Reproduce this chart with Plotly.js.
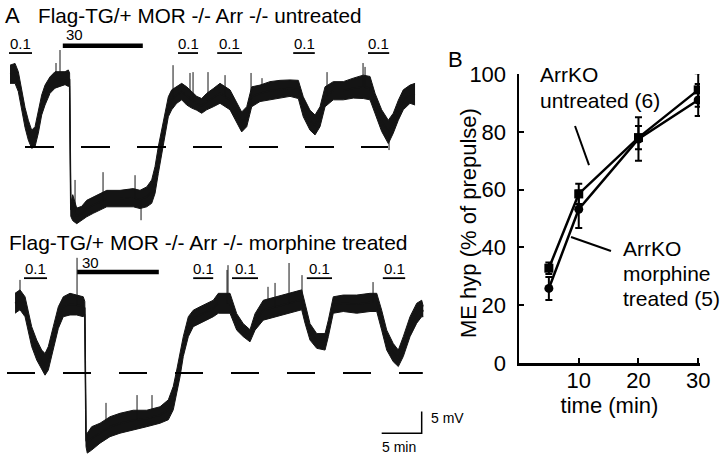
<!DOCTYPE html>
<html>
<head>
<meta charset="utf-8">
<script src="https://cdn.plot.ly/plotly-3.0.1.min.js"></script>
<style>html,body{margin:0;padding:0;background:#fff;}#chart{width:720px;height:458px;}</style>
</head>
<body>
<div id="chart"></div>
<script>
// ---------------- Panel A: membrane potential traces (time in min, mV relative to dashed line) ----
const topT = [0,0.63,1.04,1.46,1.88,2.29,2.71,3.13,3.54,3.96,4.38,5.0,5.63,6.25,6.88,7.29,7.45,7.6,7.84,8.34,8.96,9.59,10.41,11.25,12.09,13.75,15.41,16.25,17.09,17.71,18.13,18.54,18.96,19.38,19.79,20.21,20.84,21.46,22.09,22.71,23.34,23.96,24.59,25.41,26.25,27.5,28.34,28.96,29.59,30.21,31.25,32.5,33.75,35.0,36.04,36.66,37.5,38.13,38.75,39.38,40.41,41.66,42.91,44.16,45.0,45.63,46.46,47.29,47.91,48.54,49.16,50.0,50.63];
const topV = [16.8,17.0,15.1,10.5,6.8,3.9,1.8,2.4,5.7,9.7,12.0,14.3,15.5,15.7,15.9,15.9,15.6,-14.5,-14.0,-15.9,-15.3,-14.2,-13.4,-12.6,-11.9,-11.9,-11.7,-12.1,-11.5,-10.3,-7.6,-3.0,1.2,5.1,9.3,10.9,12.0,12.8,11.8,10.9,10.1,9.5,10.5,11.4,12.4,10.9,7.8,5.8,7.0,11.6,12.4,13.0,13.3,13.6,13.3,9.3,6.2,5.1,7.0,11.6,13.0,13.0,13.6,13.9,13.6,10.1,6.1,3.5,5.5,8.5,10.9,12.2,12.2];
const topNoise = [2.1,2.3,2.3,2.3,2.3,2.3,2.1,2.3,2.5,2.3,2.3,1.9,1.9,1.7,1.5,1.9,1.5,1.5,3.0,1.8,1.6,1.9,1.9,1.9,1.9,1.9,2.1,2.1,2.3,2.7,3.1,3.1,2.7,2.7,2.3,2.3,1.9,1.9,2.1,1.9,1.6,1.7,1.9,2.1,2.3,2.3,2.3,2.3,2.3,2.3,1.9,2.1,2.1,1.9,2.1,2.3,2.3,2.3,2.3,2.3,2.1,2.1,2.3,2.7,2.7,2.3,2.5,2.7,2.3,2.3,2.3,2.1,2.5];
const topSpikeT = [5.75,6.25,8.13,11.63,15.63,16.38,20.38,22.5,22.88,24.75,26.88,30.13,31.5,39.63,44.13,44.38,47.38];
const topSpikeV = [19.4,22.4,-7.6,-5.8,-6.5,-16.9,18.9,17.1,17.3,17.3,16.6,17.1,15.9,17.3,19.4,18.5,-0.7];

const botT = [0.63,1.25,1.88,2.29,2.71,3.34,3.96,4.38,4.79,5.41,6.04,6.66,7.5,8.34,9.16,9.35,9.5,9.66,10.21,11.25,12.5,13.75,15.41,17.09,18.75,19.79,20.41,20.84,21.25,21.66,22.29,22.91,23.75,24.59,25.41,26.04,27.5,28.34,29.16,30.0,30.63,31.66,33.34,35.0,36.46,36.88,37.5,38.34,39.38,39.79,40.41,41.66,43.34,45.0,45.84,46.46,47.09,47.91,48.54,49.16,50.0,50.84,51.46,51.66];
const botV = [16.1,16.9,15.3,12.2,8.4,5.3,3.0,2.0,3.4,8.0,12.8,15.3,15.9,15.7,15.3,15.0,-15.5,-16.2,-15.1,-13.9,-12.4,-11.6,-10.9,-10.5,-9.7,-8.5,-5.8,-2.0,1.8,6.1,10.7,12.6,13.4,14.2,14.9,16.1,16.1,11.8,9.9,8.6,11.8,14.5,15.3,16.1,16.9,13.8,9.5,7.4,7.2,10.3,15.7,16.1,15.9,16.3,16.3,12.2,7.6,4.7,3.4,6.1,10.7,13.8,14.9,14.2];
const botNoise = [2.3,2.3,2.3,2.3,2.3,2.3,2.3,2.5,2.7,2.7,2.5,2.3,2.5,2.3,2.3,1.5,1.5,2.3,2.7,2.3,2.3,2.3,2.3,1.9,1.9,2.3,2.7,2.7,2.7,2.3,2.3,1.9,1.9,1.9,1.9,2.3,2.3,1.9,1.5,1.4,1.9,2.3,2.3,2.3,2.3,2.3,1.9,1.7,1.9,1.9,1.9,1.9,2.1,2.1,2.1,2.3,2.3,2.1,1.9,2.3,2.3,2.3,1.9,1.2];
const botSpikeT = [1.25,8.38,12.0,15.88,17.75,27.13,27.25,32.25,33.13,34.88,36.5,45.38];
const botSpikeV = [21.5,26.6,-6.9,-5.1,-5.1,23.8,24.9,19.9,20.8,25.4,22.6,21.0];

// drug applications (min): DAMGO 0.1 and 30
const topLowStart = [-0.125,21.0,25.9,35.4,44.75];
const topLowEnd   = [2.75,23.5,29.0,38.1,47.4];
const topHighStart = [6.6], topHighEnd = [16.6];
const botLowStart = [1.75,22.9,27.75,37.1,46.6];
const botLowEnd   = [4.63,25.4,31.0,40.25,49.4];
const botHighStart = [8.4], botHighEnd = [18.6];
const lowLabel = "0.1", highLabel = "30";

// reference (dashed) lines extent, min
const topRefSpan = [1.875, 47.25];
const botRefSpan = [-0.375, 51.6];

// scale bar
const scaleMin = 5, scaleMV = 5;
const scaleStart = [46.46, -13.9]; // t, mV on lower trace axis

// ---------------- Panel B ----------------
const timeMin = [5, 10, 20, 30];
const untreated = [32.8, 58.5, 78, 94.5];
const untreatedErr = [2, 3.5, 4, 5.8];
const morphine = [25.8, 53.2, 77.5, 91];
const morphineErr = [4, 6.5, 7.5, 5.5];
const xTicks = [10, 20, 30];
const yTicks = [0, 20, 40, 60, 80, 100];

const FONT = 'Liberation Sans, Arial, sans-serif';
const INK = '#141414';

function interp(ts, vs, t) {
  if (t <= ts[0]) return vs[0];
  for (let i = 1; i < ts.length; i++) {
    if (t <= ts[i]) { const f = (t - ts[i-1]) / (ts[i] - ts[i-1]); return vs[i-1] + f * (vs[i] - vs[i-1]); }
  }
  return vs[vs.length - 1];
}

function traceBand(T, V, N, yax) {
  const lo = V.map((v, i) => v - N[i]);
  const hi = V.map((v, i) => v + N[i]);
  return [
    {x: T, y: lo, yaxis: yax, xaxis: 'x', mode: 'lines', line: {color: INK, width: 1}, showlegend: false, hoverinfo: 'skip'},
    {x: T, y: hi, yaxis: yax, xaxis: 'x', mode: 'lines', line: {color: INK, width: 1}, fill: 'tonexty', fillcolor: INK, showlegend: false, hoverinfo: 'skip'},
    {x: T, y: V, yaxis: yax, xaxis: 'x', mode: 'lines', line: {color: INK, width: 1.5}, showlegend: false, hoverinfo: 'skip'}
  ];
}
function spikes(T, V, ST, SV, yax) {
  const xs = [], ys = [];
  ST.forEach((t, i) => { xs.push(t, t, null); ys.push(interp(T, V, t), SV[i], null); });
  return {x: xs, y: ys, yaxis: yax, xaxis: 'x', mode: 'lines', line: {color: INK, width: 1}, showlegend: false, hoverinfo: 'skip'};
}
function bars(S, E, level, w, yax) {
  const xs = [], ys = [];
  S.forEach((s, i) => { xs.push(s, E[i], null); ys.push(level, level, null); });
  return {x: xs, y: ys, yaxis: yax, xaxis: 'x', mode: 'lines', line: {color: '#000', width: w}, showlegend: false, hoverinfo: 'skip'};
}

const data = [];
data.push(...traceBand(topT, topV, topNoise, 'y'));
data.push(spikes(topT, topV, topSpikeT, topSpikeV, 'y'));
data.push(...traceBand(botT, botV, botNoise, 'y2'));
data.push(spikes(botT, botV, botSpikeT, botSpikeV, 'y2'));
// dashed reference lines
data.push({x: topRefSpan, y: [0, 0], xaxis: 'x', yaxis: 'y', mode: 'lines', line: {color: '#000', width: 2, dash: '29px,27px'}, showlegend: false, hoverinfo: 'skip'});
data.push({x: botRefSpan, y: [0, 0], xaxis: 'x', yaxis: 'y2', mode: 'lines', line: {color: '#000', width: 2, dash: '28px,28px'}, showlegend: false, hoverinfo: 'skip'});
// application bars
const topLowLevel = 21.7, topHighLevel = 23.4, botLowLevel = 21.9, botHighLevel = 23.3;
data.push(bars(topLowStart, topLowEnd, topLowLevel, 1.8, 'y'));
data.push(bars(topHighStart, topHighEnd, topHighLevel, 4.5, 'y'));
data.push(bars(botLowStart, botLowEnd, botLowLevel, 1.8, 'y2'));
data.push(bars(botHighStart, botHighEnd, botHighLevel, 4.5, 'y2'));
// scale bar
data.push({x: [scaleStart[0], scaleStart[0] + scaleMin, scaleStart[0] + scaleMin],
           y: [scaleStart[1], scaleStart[1], scaleStart[1] + scaleMV],
           xaxis: 'x', yaxis: 'y2', mode: 'lines', line: {color: '#000', width: 1.5}, showlegend: false, hoverinfo: 'skip'});

// Panel B series
data.push({x: timeMin, y: untreated, xaxis: 'x2', yaxis: 'y3', mode: 'lines+markers', name: 'ArrKO untreated (6)',
  line: {color: '#000', width: 2.5}, marker: {symbol: 'square', size: 9, color: '#000'},
  error_y: {type: 'data', array: untreatedErr, visible: true, color: '#000', thickness: 2, width: 3.5}, showlegend: false});
data.push({x: timeMin, y: morphine, xaxis: 'x2', yaxis: 'y3', mode: 'lines+markers', name: 'ArrKO morphine treated (5)',
  line: {color: '#000', width: 2.5}, marker: {symbol: 'circle', size: 9, color: '#000'},
  error_y: {type: 'data', array: morphineErr, visible: true, color: '#000', thickness: 2, width: 3.5}, showlegend: false});

const annotations = [];
function txt(x, y, text, size, anchor, xref, yref, extra) {
  annotations.push(Object.assign({x: x, y: y, xref: xref || 'paper', yref: yref || 'paper', text: text, showarrow: false,
    xanchor: anchor || 'left', yanchor: 'middle', font: {family: FONT, size: size, color: '#000'}}, extra || {}));
}
const W = 720, H = 458;
txt(3 / W, 1 - 15 / H, 'A', 22);
txt(36 / W, 1 - 15 / H, 'Flag-TG/+ MOR -/- Arr -/- untreated', 20.7);
txt(7 / W, 1 - 243 / H, 'Flag-TG/+ MOR -/- Arr -/- morphine treated', 21);
txt(446 / W, 1 - 60 / H, 'B', 22);
txt(538 / W, 1 - 74 / H, 'ArrKO', 21);
txt(538 / W, 1 - 100 / H, 'untreated (6)', 21);
txt(621 / W, 1 - 248 / H, 'ArrKO', 21);
txt(621 / W, 1 - 273 / H, 'morphine', 21);
txt(621 / W, 1 - 298 / H, 'treated (5)', 21);
// y-axis title of panel B
txt(468 / W, 1 - 223 / H, 'ME hyp (% of prepulse)', 22, 'center', 'paper', 'paper', {textangle: -90});
topLowStart.forEach((s, i) => txt((s + topLowEnd[i]) / 2, 24.0, lowLabel, 15, 'center', 'x', 'y'));
botLowStart.forEach((s, i) => txt((s + botLowEnd[i]) / 2, 24.2, lowLabel, 15, 'center', 'x', 'y2'));
txt(topHighStart[0] + 0.1, 25.9, highLabel, 15, 'left', 'x', 'y');
txt(botHighStart[0] + 0.3, 25.6, highLabel, 15, 'left', 'x', 'y2');
txt(scaleStart[0] + scaleMin + 0.9, scaleStart[1] + 3.6, scaleMV + ' mV', 14, 'left', 'x', 'y2');
txt(scaleStart[0] + scaleMin / 2 - 0.3, scaleStart[1] - 3.1, scaleMin + ' min', 14, 'center', 'x', 'y2');

const shapes = [
  {type: 'line', xref: 'x2', yref: 'y3', x0: 9.38, y0: 82.0, x1: 11.72, y1: 68.5, line: {color: '#000', width: 2}},
  {type: 'line', xref: 'x2', yref: 'y3', x0: 8.71, y0: 43.6, x1: 15.4, y1: 38.75, line: {color: '#000', width: 2}}
];

const hidden = {visible: false, showgrid: false, zeroline: false, fixedrange: true};
const layout = {
  width: W, height: H,
  margin: {l: 0, r: 0, t: 0, b: 0, pad: 0},
  paper_bgcolor: '#fff', plot_bgcolor: 'rgba(0,0,0,0)',
  showlegend: false,
  font: {family: FONT, color: '#000'},
  xaxis: Object.assign({}, hidden, {domain: [0, 1], range: [-1.25, 88.75], anchor: 'y'}),
  yaxis: Object.assign({}, hidden, {domain: [0, 1], range: [-71.8, 33.95], anchor: 'x'}),
  yaxis2: Object.assign({}, hidden, {domain: [0, 1], range: [-19.63, 86.14], anchor: 'x', overlaying: 'y'}),
  xaxis2: {domain: [519 / W, 700 / W], range: [0, 30.3], anchor: 'y3', showgrid: false, zeroline: false,
    showline: true, linecolor: '#000', linewidth: 2.5, ticks: 'inside', ticklen: 5, tickwidth: 2, tickcolor: '#000',
    tickvals: xTicks, ticktext: xTicks.map(String), tickfont: {family: FONT, size: 22, color: '#000'},
    ticklabelstandoff: -4,
    title: {text: 'time (min)', font: {family: FONT, size: 22, color: '#000'}, standoff: 4}},
  yaxis3: {domain: [(H - 363) / H, (H - 74) / H], range: [0, 100], anchor: 'x2', showgrid: false, zeroline: false,
    showline: true, linecolor: '#000', linewidth: 2.5, ticks: 'inside', ticklen: 5, tickwidth: 2, tickcolor: '#000',
    tickvals: yTicks, ticktext: yTicks.map(String), tickfont: {family: FONT, size: 22, color: '#000'},
    ticklabelstandoff: 6},
  annotations: annotations,
  shapes: shapes
};

Plotly.newPlot('chart', data, layout, {staticPlot: true, displayModeBar: false});
</script>
</body>
</html>
